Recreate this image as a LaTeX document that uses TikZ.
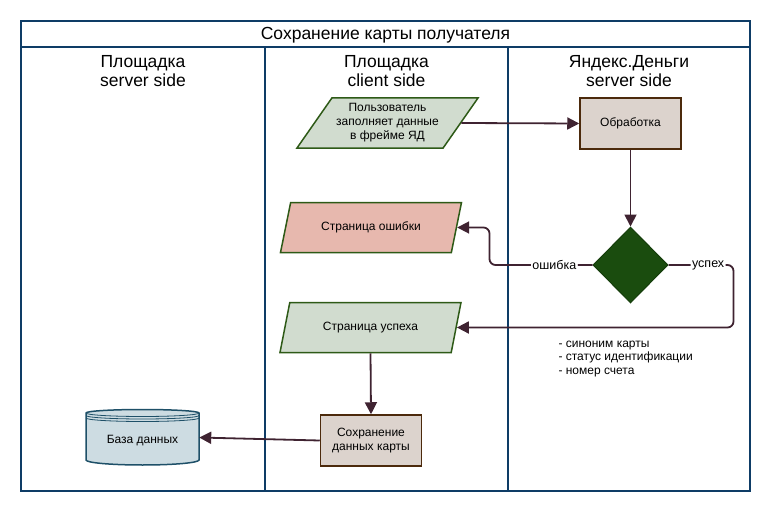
\documentclass[tikz,border=0pt]{standalone}
\usepackage{fontspec}
\setmainfont{Liberation Sans}
\usetikzlibrary{arrows.meta,
                shapes.geometric}
\definecolor{lane}{RGB}{14,60,102}
\definecolor{iofill}{RGB}{209,220,207}
\definecolor{iodraw}{RGB}{46,90,23}
\definecolor{errfill}{RGB}{231,184,174}
\definecolor{procfill}{RGB}{220,211,205}
\definecolor{procdraw}{RGB}{76,42,12}
\definecolor{decfill}{RGB}{26,76,14}
\definecolor{dbfill}{RGB}{205,220,226}
\definecolor{dbdraw}{RGB}{30,80,104}
\definecolor{flow}{RGB}{63,35,49}

\begin{document}
\begin{tikzpicture}[x=1pt, y=-1pt]

\tikzstyle{lanebox}=[draw=lane, line width=2pt]
\tikzstyle{head}=[font=\fontsize{17.5}{19}\selectfont, align=center]
\tikzstyle{io}=[trapezium, trapezium left angle=48, trapezium right angle=132, trapezium stretches body,
                minimum width=181pt, minimum height=50pt, inner sep=0pt,
                draw=iodraw, line width=1.5pt, fill=iofill, align=center, font=\fontsize{12}{14}\selectfont]
\tikzstyle{box1}=[rectangle, minimum width=101pt, minimum height=51pt, draw=procdraw, line width=1.5pt,
                  fill=procfill, align=center, font=\fontsize{12}{14}\selectfont]
\tikzstyle{arrow}=[-{Triangle[length=12pt,width=12pt]}, draw=flow, line width=1.8pt]
\tikzstyle{tag}=[fill=white, inner sep=1.5pt, font=\fontsize{12.5}{14}\selectfont]

\useasboundingbox (0,0) rectangle (772,511);

% swimlanes
\draw [lanebox] (21,21) rectangle (750,491);
\draw [lanebox] (21,47) -- (750,47);
\draw [lanebox] (265,47) -- (265,491);
\draw [lanebox] (508,47) -- (508,491);

\node (T) [head] at (385.5,35) {Сохранение карты получателя};
\node (L1) [head] at (143,71.5) {Площадка\\ server side};
\node (L2) [head] at (386.5,71.5) {Площадка\\ client side};
\node (L3) [head] at (629,71.5) {Яндекс.Деньги\\ server side};

% flow
\node (Input) [io] at (387.5,123) {Пользователь\\ заполняет данные\\ в фрейме ЯД};
\node (Proc) [box1] at (630.5,123.5) {Обработка};
\node (Check) [diamond, minimum width=75pt, minimum height=76pt, inner sep=0pt,
               fill=decfill, draw=decfill!80!black, line width=1pt] at (630.5,265) {};
\node (Err) [io, fill=errfill] at (371,227.5) {Страница ошибки};
\node (Ok) [io] at (370.5,327.5) {Страница успеха};
\node (Save) [box1] at (371,440.5) {Сохранение\\ данных карты};

% database
\node (DB) [rectangle, minimum width=113pt, minimum height=55pt, inner sep=0pt] at (142.5,437.5) {};
\filldraw [draw=dbdraw, fill=dbfill, line width=1.5pt]
      (86,413) -- (86,460) arc [start angle=180, end angle=0, x radius=56.5, y radius=5]
      -- (199,413) arc [start angle=0, end angle=-180, x radius=56.5, y radius=3.5] -- cycle;
\foreach \dy in {0, 2.5, 5}
  \draw [dbdraw, line width=0.8pt] (86,413+\dy) arc [start angle=180, end angle=0, x radius=56.5, y radius=3.5];
\node [font=\fontsize{12}{14}\selectfont] at (142.5,441) {База данных};

\node (Info) [align=left, anchor=west, font=\fontsize{12}{13.5}\selectfont] at (555,359)
      {- синоним карты\\ - статус идентификации\\ - номер счета};

\draw [arrow] (Input.east) -- (Proc.west);
\draw [arrow] (Proc.south) -- (Check.north);
\draw [arrow, rounded corners=6pt] (Check.west) -- node [tag, pos=0.37] {ошибка} ++(-103,0) |- (Err.east);
\draw [arrow, rounded corners=6pt] (Check.east) -- node [tag, pos=0.61] {успех} ++(65,0) |- (Ok.east);
\draw [arrow] (Ok.south) -- (Save.north);
\draw [arrow] (Save.west) -- (DB.east);

\end{tikzpicture}
\end{document}
